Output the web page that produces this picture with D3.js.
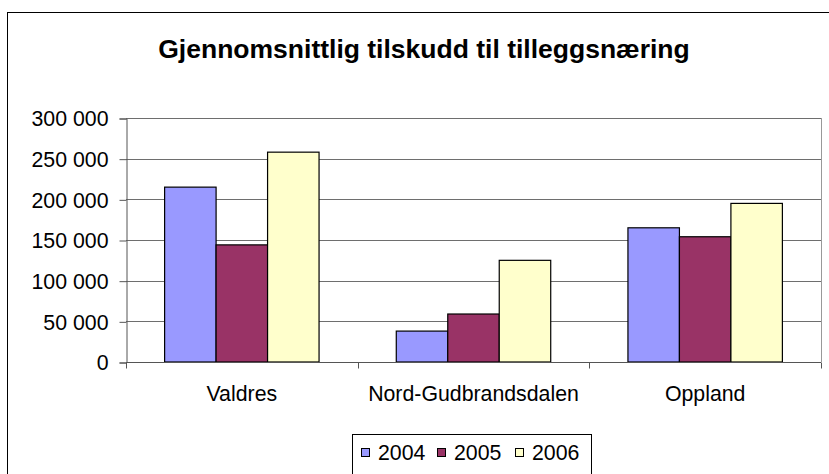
<!DOCTYPE html>
<html>
<head>
<meta charset="utf-8">
<script src="https://cdn.jsdelivr.net/npm/d3@7"></script>
<style>
  body { margin: 0; background: #fff; }
  text { font-family: "Liberation Sans", Arial, sans-serif; fill: #000; }
</style>
</head>
<body>
<div id="chart"></div>
<script>
var categories = ["Valdres", "Nord-Gudbrandsdalen", "Oppland"];
var years = ["2004", "2005", "2006"];
var values2004 = [215000, 38000, 165000];
var values2005 = [144000, 59000, 154000];
var values2006 = [258000, 125000, 195000];
var yTicks = [0, 50000, 100000, 150000, 200000, 250000, 300000];
var colors = ["#9999ff", "#993366", "#ffffcc"];

var width = 829;
var height = 474;

var plot = {
  left: 126,
  right: 821,
  top: 118,
  bottom: 362
};

var series = [values2004, values2005, values2006];

var svg = d3.select("#chart")
  .append("svg")
  .attr("width", width)
  .attr("height", height);

//Outer chart border
svg.append("rect")
  .attr("x", 7.5).attr("y", 12.5)
  .attr("width", 840).attr("height", 480)
  .attr("fill", "none").attr("stroke", "#000");

//Title
svg.append("text")
  .attr("x", 424).attr("y", 58)
  .attr("text-anchor", "middle")
  .style("font-size", "26.5px").style("font-weight", "bold")
  .text("Gjennomsnittlig tilskudd til tilleggsnæring");

var yScale = d3.scaleLinear().domain([0, 300000]).range([plot.bottom, plot.top]);
var x0 = d3.scaleBand().domain(categories).range([plot.left, plot.right])
  .paddingInner(1 / 3).paddingOuter(1 / 6);
var x1 = d3.scaleBand().domain(years).range([0, x0.bandwidth()]);

//Gridlines
svg.append("g").selectAll("line").data(yTicks.slice(1)).enter().append("line")
  .attr("x1", plot.left).attr("x2", plot.right)
  .attr("y1", function(d) { return Math.round(yScale(d)) + 0.5; })
  .attr("y2", function(d) { return Math.round(yScale(d)) + 0.5; })
  .attr("stroke", "#6e6e6e");

//Plot area right border
svg.append("line")
  .attr("x1", plot.right + 0.5).attr("x2", plot.right + 0.5)
  .attr("y1", plot.top).attr("y2", plot.bottom)
  .attr("stroke", "#999");

//Bars
var groups = svg.append("g").selectAll("g").data(categories).enter().append("g")
  .attr("transform", function(d) { return "translate(" + x0(d) + ",0)"; });

groups.selectAll("rect")
  .data(function(d, i) {
    return years.map(function(y, j) { return { year: y, value: series[j][i], idx: j }; });
  })
  .enter().append("rect")
  .attr("x", function(d) { return x1(d.year); })
  .attr("y", function(d) { return yScale(d.value); })
  .attr("width", x1.bandwidth())
  .attr("height", function(d) { return plot.bottom - yScale(d.value); })
  .attr("fill", function(d) { return colors[d.idx]; })
  .attr("stroke", "#000").attr("stroke-width", 1.2);

//Y axis
var yAxis = svg.append("g")
  .attr("transform", "translate(" + (plot.left + 0.5) + ",0.5)")
  .call(d3.axisLeft(yScale).tickValues(yTicks).tickSize(7).tickPadding(11)
    .tickFormat(function(d) { return d3.format(",")(d).replace(/,/g, " "); }));
yAxis.select(".domain").attr("stroke", "#555");
yAxis.selectAll(".tick line").attr("stroke", "#555");
yAxis.selectAll("text").style("font-size", "21.3px").attr("dy", "0.35em");

//X axis
var xAxis = svg.append("g")
  .attr("transform", "translate(0," + (plot.bottom + 0.5) + ")");
xAxis.append("line")
  .attr("x1", plot.left).attr("x2", plot.right)
  .attr("stroke", "#555");
xAxis.selectAll(".cat-tick").data(d3.range(categories.length + 1)).enter().append("line")
  .attr("class", "cat-tick")
  .attr("x1", function(i) { return Math.round(plot.left + i * x0.step()) + 0.5; })
  .attr("x2", function(i) { return Math.round(plot.left + i * x0.step()) + 0.5; })
  .attr("y1", 0).attr("y2", 6)
  .attr("stroke", "#555");
xAxis.selectAll("text").data(categories).enter().append("text")
  .attr("x", function(d) { return x0(d) + x0.bandwidth() / 2; })
  .attr("y", 38)
  .attr("text-anchor", "middle")
  .style("font-size", "21.3px")
  .text(function(d) { return d; });

//Legend
var legend = svg.append("g");
legend.append("rect")
  .attr("x", 352.5).attr("y", 434.5)
  .attr("width", 239).attr("height", 50)
  .attr("fill", "#fff").attr("stroke", "#000");

var legendX = [361, 437, 515];
var items = legend.selectAll(".item").data(years).enter().append("g")
  .attr("class", "item")
  .attr("transform", function(d, i) { return "translate(" + legendX[i] + ",0)"; });
items.append("rect")
  .attr("x", 0.5).attr("y", 448.5)
  .attr("width", 8).attr("height", 8)
  .attr("fill", function(d, i) { return colors[i]; })
  .attr("stroke", "#000");
items.append("text")
  .attr("x", 17).attr("y", 460)
  .style("font-size", "21.3px")
  .text(function(d) { return d; });
</script>
</body>
</html>
